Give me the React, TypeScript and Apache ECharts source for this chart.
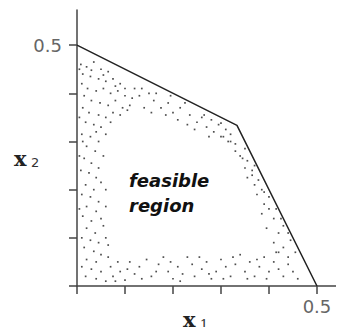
import React, { useEffect, useRef } from "react";
import * as echarts from "echarts";

// Boundary of the feasible region (x1, x2)
const boundary: [number, number][] = [
  [0, 0.5],
  [1 / 3, 1 / 3],
  [0.5, 0],
];

// Stipple dots inside the feasible region (x1, x2)
const leftDots: [number, number][] = [
  [0.008, 0.46], [0.02, 0.455], [0.035, 0.465], [0.05, 0.45], [0.065, 0.445], [0.012, 0.44],
  [0.028, 0.435], [0.045, 0.43], [0.06, 0.425], [0.075, 0.43], [0.09, 0.42], [0.01, 0.42],
  [0.022, 0.41], [0.04, 0.405], [0.055, 0.41], [0.07, 0.4], [0.085, 0.405], [0.1, 0.395],
  [0.115, 0.39], [0.015, 0.395], [0.03, 0.385], [0.048, 0.38], [0.065, 0.375], [0.08, 0.385],
  [0.095, 0.37], [0.012, 0.37], [0.025, 0.36], [0.045, 0.355], [0.06, 0.35], [0.09, 0.355],
  [0.105, 0.365], [0.018, 0.34], [0.035, 0.335], [0.05, 0.33], [0.07, 0.34], [0.01, 0.315],
  [0.028, 0.31], [0.045, 0.3], [0.02, 0.29], [0.038, 0.28], [0.015, 0.265], [0.03, 0.255],
  [0.008, 0.24], [0.025, 0.235], [0.04, 0.225], [0.018, 0.21], [0.035, 0.2], [0.05, 0.215],
  [0.01, 0.19], [0.028, 0.185], [0.045, 0.175], [0.02, 0.165], [0.04, 0.155], [0.012, 0.145],
  [0.03, 0.135], [0.05, 0.14], [0.02, 0.12], [0.038, 0.11], [0.055, 0.125], [0.01, 0.1],
  [0.028, 0.095], [0.045, 0.09], [0.06, 0.1], [0.015, 0.08], [0.035, 0.072], [0.05, 0.065],
  [0.02, 0.055], [0.04, 0.05], [0.065, 0.06], [0.01, 0.04], [0.03, 0.035], [0.05, 0.03],
  [0.07, 0.04], [0.018, 0.02], [0.04, 0.015], [0.06, 0.01], [0.075, 0.02],
  [0.005, 0.45], [0.03, 0.448], [0.055, 0.438], [0.08, 0.415], [0.1, 0.41], [0.11, 0.375],
  [0.075, 0.36], [0.005, 0.35], [0.04, 0.32], [0.06, 0.315], [0.012, 0.3], [0.055, 0.27],
  [0.005, 0.27], [0.045, 0.245], [0.06, 0.2], [0.005, 0.16], [0.06, 0.165], [0.065, 0.085],
  [0.085, 0.05], [0.08, 0.01],
];

const bottomDots: [number, number][] = [
  [0.09, 0.03], [0.1, 0.012], [0.11, 0.05], [0.12, 0.025], [0.13, 0.04], [0.145, 0.055],
  [0.155, 0.02], [0.17, 0.045], [0.18, 0.06], [0.19, 0.03], [0.2, 0.015], [0.21, 0.04],
  [0.22, 0.025], [0.23, 0.06], [0.24, 0.045], [0.245, 0.02], [0.26, 0.035], [0.27, 0.05],
  [0.28, 0.015], [0.29, 0.03], [0.3, 0.055], [0.31, 0.04], [0.32, 0.02], [0.33, 0.045],
  [0.34, 0.065], [0.35, 0.03], [0.36, 0.05], [0.37, 0.02], [0.38, 0.04], [0.39, 0.06],
  [0.4, 0.03], [0.41, 0.05], [0.42, 0.035], [0.43, 0.02], [0.44, 0.045],
  [0.105, 0.035], [0.135, 0.015], [0.165, 0.03], [0.195, 0.05], [0.215, 0.01], [0.255, 0.06],
  [0.275, 0.025], [0.305, 0.015], [0.325, 0.06], [0.355, 0.015], [0.375, 0.055], [0.395, 0.015],
  [0.415, 0.07], [0.45, 0.03], [0.46, 0.015],
];

const rightDots: [number, number][] = [
  [0.43, 0.08], [0.41, 0.09], [0.445, 0.095], [0.42, 0.11], [0.395, 0.12], [0.43, 0.125],
  [0.41, 0.14], [0.385, 0.15], [0.415, 0.16], [0.39, 0.17], [0.4, 0.185], [0.375, 0.19],
  [0.385, 0.2], [0.37, 0.21], [0.378, 0.22], [0.365, 0.23], [0.35, 0.245], [0.37, 0.25],
  [0.355, 0.26], [0.34, 0.27], [0.33, 0.28], [0.35, 0.285], [0.33, 0.295], [0.315, 0.3],
  [0.32, 0.315], [0.3, 0.31],
  [0.44, 0.11], [0.425, 0.14], [0.4, 0.16], [0.39, 0.195], [0.365, 0.24], [0.345, 0.265],
  [0.44, 0.06], [0.42, 0.07], [0.455, 0.07], [0.355, 0.225],
];

const topDots: [number, number][] = [
  [0.12, 0.41], [0.13, 0.395], [0.15, 0.4], [0.16, 0.385], [0.14, 0.37], [0.175, 0.37],
  [0.19, 0.38], [0.185, 0.355], [0.2, 0.36], [0.215, 0.37], [0.21, 0.345], [0.235, 0.355],
  [0.25, 0.34], [0.245, 0.325], [0.26, 0.35], [0.27, 0.33], [0.28, 0.345], [0.285, 0.32],
  [0.295, 0.335], [0.305, 0.31], [0.31, 0.325],
  [0.135, 0.41], [0.165, 0.4], [0.155, 0.36], [0.195, 0.395], [0.225, 0.38], [0.23, 0.335],
  [0.265, 0.355], [0.275, 0.31], [0.3, 0.338], [0.32, 0.3],
];

const tickLabels = ["0.5"];
const regionLabel = "feasible\nregion";

export default function App() {
  const ref = useRef<HTMLDivElement>(null);
  useEffect(() => {
    if (!ref.current) return;
    const chart = echarts.init(ref.current, undefined, { renderer: "svg" });
    const axisColor = "#444";
    const showLabel = (v: number) => (Math.abs(v - 0.5) < 1e-9 ? tickLabels[0] : "");
    const tickFilter = (_i: number, v: any) => Number(v) > 1e-9;
    const dotStyle = {
      type: "scatter" as const,
      symbol: "rect",
      symbolSize: 1.7,
      itemStyle: { color: "#222" },
      silent: true,
    };
    const labelFont = {
      fontSize: 18,
      color: "#666",
      fontFamily: "DejaVu Sans",
      showMaxLabel: false,
    };
    const bigX = {
      text: "x",
      fontFamily: "DejaVu Serif",
      fontSize: 21,
      fontWeight: "bold",
      fill: "#222",
      verticalAlign: "middle",
    };
    const sub = { fontFamily: "DejaVu Sans", fontSize: 13, fill: "#333", verticalAlign: "middle" };
    chart.setOption({
      animation: false,
      backgroundColor: "#fff",
      grid: { left: 77, top: 10, right: 4, bottom: 49 },
      xAxis: {
        type: "value",
        min: 0,
        max: 0.548,
        interval: 0.1,
        splitLine: { show: false },
        axisLine: { lineStyle: { color: axisColor, width: 1.5 } },
        axisTick: { length: 8, interval: tickFilter, lineStyle: { color: axisColor, width: 1.5 } },
        axisLabel: { formatter: showLabel, margin: 11, ...labelFont },
      },
      yAxis: {
        type: "value",
        min: 0,
        max: 0.573,
        interval: 0.1,
        splitLine: { show: false },
        axisLine: { lineStyle: { color: axisColor, width: 1.5 } },
        axisTick: { length: 8, interval: tickFilter, lineStyle: { color: axisColor, width: 1.5 } },
        axisLabel: { formatter: showLabel, margin: 15, ...labelFont },
      },
      series: [
        {
          type: "line",
          data: boundary,
          symbol: "none",
          lineStyle: { color: "#222", width: 1.5 },
          silent: true,
        },
        { ...dotStyle, data: leftDots },
        { ...dotStyle, data: bottomDots },
        { ...dotStyle, data: rightDots },
        { ...dotStyle, data: topDots },
      ],
      graphic: [
        { type: "text", x: 14, y: 158, style: { ...bigX } },
        { type: "text", x: 31, y: 162.5, style: { ...sub, text: "2" } },
        { type: "text", x: 183, y: 319, style: { ...bigX } },
        { type: "text", x: 200, y: 324.5, style: { ...sub, text: "1", fontFamily: "DejaVu Serif" } },
        {
          type: "text",
          left: 129,
          top: 168,
          style: {
            text: regionLabel,
            fontFamily: "DejaVu Sans",
            fontStyle: "italic",
            fontWeight: "bold",
            fontSize: 18,
            lineHeight: 25,
            fill: "#111",
          },
        },
      ],
    });
    return () => chart.dispose();
  }, []);
  return <div ref={ref} style={{ width: 344, height: 335, margin: -8 }} />;
}
